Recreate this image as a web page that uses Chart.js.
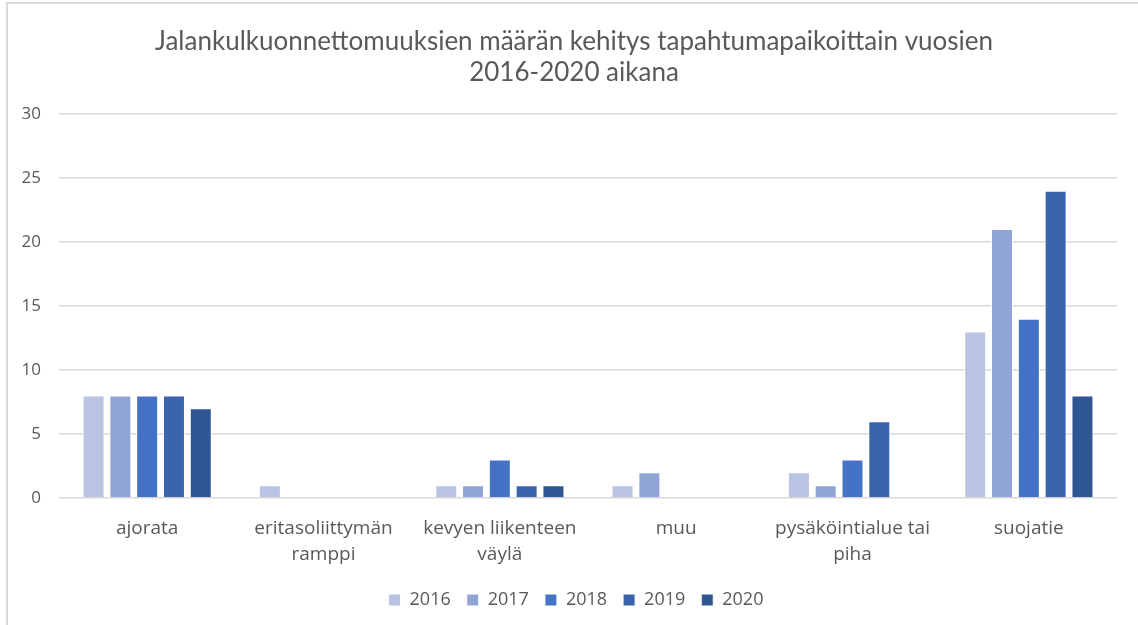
<!DOCTYPE html>
<html lang="fi">
<head>
    <meta charset="UTF-8">
    <title>Jalankulkuonnettomuudet 2016-2020</title>
    <script src="https://cdn.jsdelivr.net/npm/chart.js"></script>
    <style>
        html, body { margin: 0; padding: 0; background: #fff; }
        #wrap { position: relative; width: 1138px; height: 625px; }
    </style>
</head>
<body>
    <div id="wrap"><canvas id="chart"></canvas></div>

    <script>
        // Tapahtumapaikat (x-akseli)
        const categories = [
            'ajorata',
            ['eritasoliittymän', 'ramppi'],
            ['kevyen liikenteen', 'väylä'],
            'muu',
            ['pysäköintialue tai', 'piha'],
            'suojatie'
        ];

        // Onnettomuuksien määrät vuosittain (null = ei palkkia)
        const years = ['2016', '2017', '2018', '2019', '2020'];
        const v2016 = [8, 1, 1, 1, 2, 13];
        const v2017 = [8, null, 1, 2, 1, 21];
        const v2018 = [8, null, 3, null, 3, 14];
        const v2019 = [8, null, 1, null, 6, 24];
        const v2020 = [7, null, 1, null, null, 8];

        const colors = ['#B9C4E2', '#90A5D5', '#4472C4', '#3A65AD', '#2F5592'];
        const values = [v2016, v2017, v2018, v2019, v2020];

        const textColor = '#595959';
        const gridColor = '#d9d9d9';
        const labelFont = "'Open Sans', 'Noto Sans', sans-serif";

        // kehys kaavion ympärillä + otsikon ja selitteen keskitys kehyksen mukaan
        const frame = {
            id: 'frame',
            afterLayout(chart) {
                if (chart.titleBlock) { chart.titleBlock.left = 10; chart.titleBlock.right = 1138; }
                if (chart.legend) {
                    chart.legend.left = 14;
                    chart.legend.right = 1138;
                    chart.legend.top -= 3;
                }
            },
            beforeDraw(chart) {
                const c = chart.ctx;
                c.save();
                c.strokeStyle = gridColor;
                c.lineWidth = 2;
                c.strokeRect(7, 3, chart.width + 10, chart.height + 10);
                c.restore();
            }
        };

        new Chart(document.getElementById('chart'), {
            type: 'bar',
            data: {
                labels: categories,
                datasets: years.map((y, i) => ({
                    label: y,
                    data: values[i],
                    backgroundColor: colors[i],
                    borderColor: '#ffffff',
                    borderWidth: 1,
                    categoryPercentage: 0.76,
                    barPercentage: 0.82
                }))
            },
            options: {
                responsive: true,
                maintainAspectRatio: false,
                animation: false,
                layout: { padding: { left: 0, right: 21, top: 0, bottom: 3 } },
                plugins: {
                    title: {
                        display: true,
                        text: ['Jalankulkuonnettomuuksien määrän kehitys tapahtumapaikoittain vuosien', '2016-2020 aikana'],
                        color: textColor,
                        font: { family: "Lato, 'Open Sans', sans-serif", size: 26, weight: 'normal', lineHeight: 1.19 },
                        padding: { top: 26, bottom: 26 }
                    },
                    legend: {
                        position: 'bottom',
                        labels: {
                            color: textColor,
                            font: { family: labelFont, size: 18 },
                            boxWidth: 12,
                            boxHeight: 12,
                            padding: 16
                        }
                    },
                    tooltip: { enabled: false }
                },
                scales: {
                    x: {
                        grid: { display: false },
                        border: { display: false },
                        ticks: {
                            color: textColor,
                            font: { family: labelFont, size: 19, lineHeight: 1.37 },
                            padding: 10,
                            maxRotation: 0,
                            autoSkip: false
                        }
                    },
                    y: {
                        min: 0,
                        max: 30,
                        afterFit: (s) => { s.width = 59; },
                        grid: { color: gridColor, lineWidth: 1.5, drawTicks: false },
                        border: { display: false },
                        ticks: {
                            stepSize: 5,
                            color: textColor,
                            font: { family: labelFont, size: 17 },
                            padding: 18
                        }
                    }
                }
            },
            plugins: [frame]
        });
    </script>
</body>
</html>
